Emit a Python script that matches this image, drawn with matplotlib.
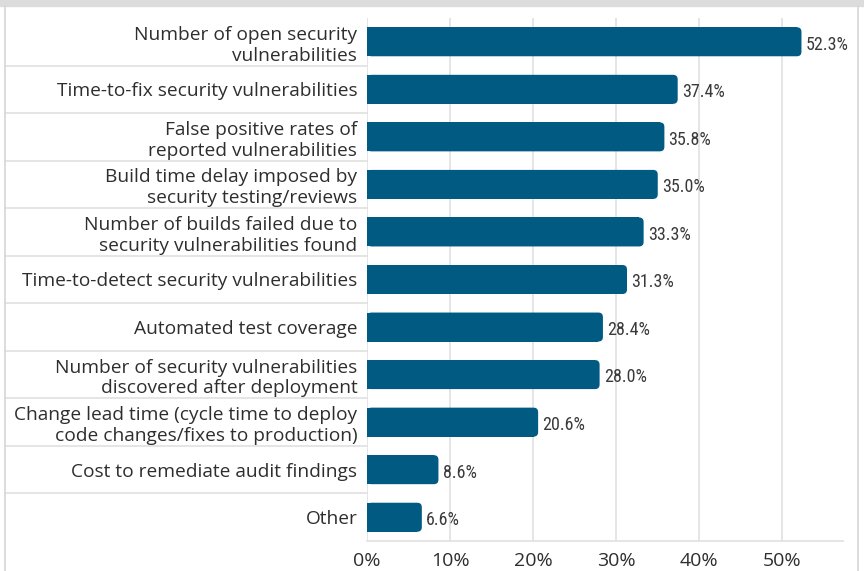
import matplotlib
matplotlib.use("Agg")
import matplotlib.pyplot as plt
from matplotlib.lines import Line2D
from matplotlib.patches import Rectangle, FancyBboxPatch
from matplotlib import font_manager

categories = [
    "Number of open security\nvulnerabilities",
    "Time-to-fix security vulnerabilities",
    "False positive rates of\nreported vulnerabilities",
    "Build time delay imposed by\nsecurity testing/reviews",
    "Number of builds failed due to\nsecurity vulnerabilities found",
    "Time-to-detect security vulnerabilities",
    "Automated test coverage",
    "Number of security vulnerabilities\ndiscovered after deployment",
    "Change lead time (cycle time to deploy\ncode changes/fixes to production)",
    "Cost to remediate audit findings",
    "Other",
]
values = [52.3, 37.4, 35.8, 35.0, 33.3, 31.3, 28.4, 28.0, 20.6, 8.6, 6.6]
xticks = [0, 10, 20, 30, 40, 50]

bar_color = "#005a82"
grid_color = "#e0e0e0"
text_color = "#2e2e2e"


# narrow face for the value labels, whichever is there
def pick_narrow():
    for fam, stretch in [("Liberation Sans Narrow", "normal"), ("Roboto Condensed", "normal"),
                         ("DejaVu Sans", "condensed"), ("Liberation Sans", "condensed")]:
        fp = font_manager.FontProperties(family=fam, stretch=stretch, size=13)
        try:
            path = font_manager.findfont(fp, fallback_to_default=False)
        except Exception:
            continue
        if "arrow" in path.lower() or "condensed" in path.lower():
            return font_manager.FontProperties(fname=path, size=13)
    return font_manager.FontProperties(family="Roboto", size=12)


val_font = pick_narrow()

fig = plt.figure(figsize=(8.64, 5.71), dpi=100)
ax = fig.add_axes([367 / 864, 1 - 541 / 571, 476 / 864, 523 / 571])

# frame of the card
fig.patches.append(Rectangle((0, 1 - 6 / 571), 1, 6 / 571, transform=fig.transFigure,
                             color="#dcdcdc", zorder=0))
for xf in [5 / 864, 858 / 864]:
    fig.add_artist(Line2D([xf, xf], [0, 1 - 6 / 571], color="#d6d6d6", lw=1.2,
                          transform=fig.transFigure))

ax.set_ylim(len(categories) - 0.5, -0.5)
ax.set_xlim(0, 57.3)

pos = list(range(len(categories)))
bar_h = 0.61
r = 0.55  # corner radius, x data units
aspect = (11 / 523) / (57.3 / 476)
ax.barh(pos, [v - r for v in values], height=bar_h, color=bar_color, zorder=3, lw=0)
for p, v in zip(pos, values):
    ax.add_patch(FancyBboxPatch((0, p - bar_h / 2), v, bar_h,
                                boxstyle=f"round,pad=0,rounding_size={r}",
                                mutation_aspect=aspect, fc=bar_color, lw=0, zorder=3))
    ax.text(v + 0.5, p + 0.06, f"{v:.1f}%", va="center", ha="left",
            fontproperties=val_font, color="#3a3a3a")

ax.set_xticks(xticks)
ax.set_xticklabels([f"{t}%" for t in xticks], fontsize=14, family="Open Sans", color=text_color)
ax.set_yticks(pos)
ax.set_yticklabels(categories, fontsize=13.8, family="Open Sans", color=text_color,
                   linespacing=1.2)
ax.tick_params(axis="y", length=0, pad=7)
ax.tick_params(axis="x", length=0, pad=8)
ax.grid(axis="x", color=grid_color, lw=1.2, zorder=0)
for s in ["top", "right", "left"]:
    ax.spines[s].set_visible(False)
ax.spines["bottom"].set_color(grid_color)
ax.spines["bottom"].set_linewidth(1.2)

# separators between rows in the label area
for k in range(1, len(categories)):
    ax.add_line(Line2D([-362 / 476, 0], [k - 0.5, k - 0.5], color=grid_color, lw=1.2,
                       transform=ax.get_yaxis_transform(), clip_on=False))

fig.savefig("out.png", dpi=100)
